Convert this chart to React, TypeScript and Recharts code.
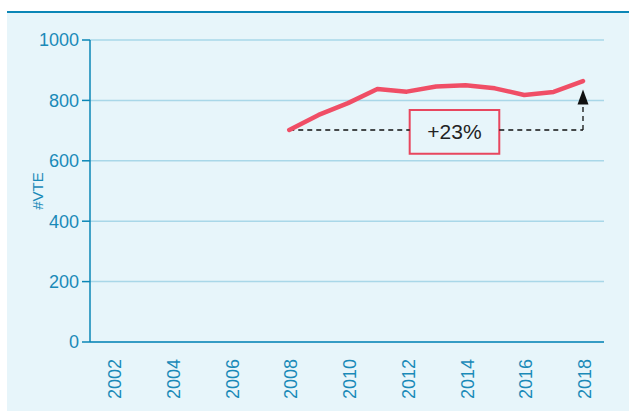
import React from 'react';
import { LineChart, Line, XAxis, YAxis, CartesianGrid, ReferenceLine, ReferenceArea, ReferenceDot } from 'recharts';

const years = [2008, 2009, 2010, 2011, 2012, 2013, 2014, 2015, 2016, 2017, 2018];
const vteCounts = [702, 752, 791, 838, 829, 846, 850, 840, 818, 828, 864];
const xTicks = [2002, 2004, 2006, 2008, 2010, 2012, 2014, 2016, 2018];
const yTicks = [0, 200, 400, 600, 800, 1000];
const changeLabel = '+23%';
const arrowTipValue = 836;
const arrowBaseValue = 786;
const boxYears = [2012.1, 2015.15];
const boxValues = [623, 768];

const data = years.map((y, i) => ({ year: y, vte: vteCounts[i] }));

const AXIS = '#0b86b6';
const TXT = '#1a8ab8';
const FONT = '"Liberation Sans", Arial, sans-serif';

const XTick = (props: any) => {
  const { x, y, payload } = props;
  return (
    <text
      x={x}
      y={y}
      transform={`rotate(-90, ${x}, ${y})`}
      textAnchor="end"
      dy="0.45em"
      fill={TXT}
      fontSize={18}
      fontFamily={FONT}
    >
      {payload.value}
    </text>
  );
};

const YLabel = (props: any) => {
  const { viewBox } = props;
  const cx = 38;
  const cy = viewBox.y + viewBox.height / 2;
  return (
    <text
      x={cx}
      y={cy}
      transform={`rotate(-90, ${cx}, ${cy})`}
      textAnchor="middle"
      dy="0.36em"
      fill={TXT}
      fontSize={15}
      fontFamily={FONT}
    >
      #VTE
    </text>
  );
};

const Arrow = (props: any) => {
  const { cx, cy } = props;
  return <polygon points={`${cx},${cy} ${cx - 5.5},${cy + 15} ${cx + 5.5},${cy + 15}`} fill="#111" />;
};

export default function App() {
  const last = years.length - 1;
  return (
    <div style={{ position: 'absolute', left: 0, top: 0, width: 629, height: 411 }}>
      <div style={{ position: 'absolute', left: 7, top: 11, width: 622, height: 400, background: '#e7f5fa', borderTop: `2px solid ${AXIS}` }} />
      <div style={{ position: 'absolute', left: 0, top: 0 }}>
        <LineChart width={629} height={411} data={data} margin={{ top: 40, right: 25, bottom: 9, left: 0 }}>
          <CartesianGrid horizontal={true} vertical={false} stroke="#a9d7e8" strokeWidth={1.5} />
          <XAxis
            dataKey="year"
            type="number"
            domain={[2002, 2018]}
            ticks={xTicks}
            padding={{ left: 23, right: 21 }}
            height={60}
            tickLine={false}
            axisLine={{ stroke: AXIS, strokeWidth: 1.5 }}
            tick={<XTick />}
            tickMargin={11}
            interval={0}
          />
          <YAxis
            type="number"
            domain={[0, 1000]}
            ticks={yTicks}
            width={90}
            tickSize={8}
            tickMargin={3}
            tickLine={{ stroke: AXIS, strokeWidth: 1.5 }}
            axisLine={{ stroke: AXIS, strokeWidth: 1.5 }}
            tick={{ fill: TXT, fontSize: 18, fontFamily: FONT }}
            label={<YLabel />}
          />
          <ReferenceLine
            segment={[{ x: years[0], y: vteCounts[0] }, { x: boxYears[0], y: vteCounts[0] }]}
            stroke="#111"
            strokeWidth={1.3}
            strokeDasharray="5 4"
          />
          <ReferenceLine
            segment={[{ x: boxYears[1], y: vteCounts[0] }, { x: years[last], y: vteCounts[0] }]}
            stroke="#111"
            strokeWidth={1.3}
            strokeDasharray="5 4"
          />
          <ReferenceLine
            segment={[{ x: years[last], y: vteCounts[0] }, { x: years[last], y: arrowBaseValue }]}
            stroke="#111"
            strokeWidth={1.3}
            strokeDasharray="5 4"
          />
          <ReferenceDot x={years[last]} y={arrowTipValue} r={5} shape={<Arrow />} />
          <ReferenceArea
            x1={boxYears[0]}
            x2={boxYears[1]}
            y1={boxValues[0]}
            y2={boxValues[1]}
            fill="#e7f5fa"
            fillOpacity={1}
            stroke="#e8465e"
            strokeWidth={2}
            label={{ value: changeLabel, position: 'center', fill: '#222', fontSize: 21, fontFamily: FONT }}
          />
          <Line
            type="linear"
            dataKey="vte"
            stroke="#f04e66"
            strokeWidth={4.5}
            strokeLinecap="round"
            strokeLinejoin="round"
            dot={false}
            activeDot={false}
            isAnimationActive={false}
          />
        </LineChart>
      </div>
    </div>
  );
}
